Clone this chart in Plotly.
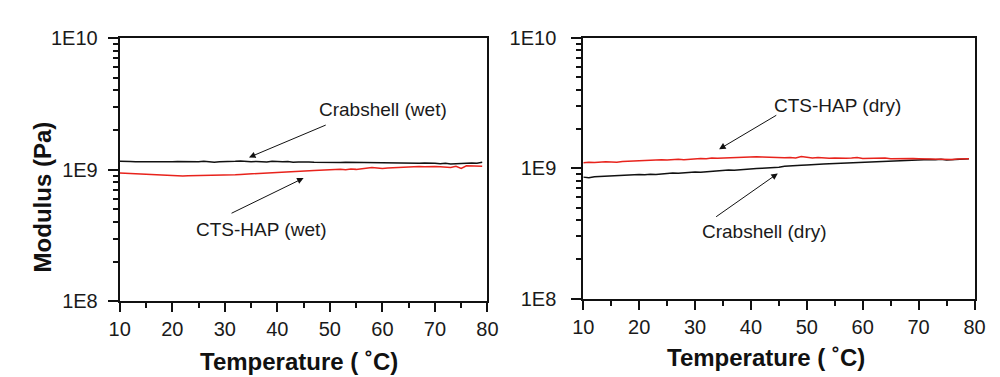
import plotly.graph_objects as go

temps = list(range(10, 80))

# Modulus values in units of 1E9 Pa
wet_crabshell = [1.16, 1.15, 1.155, 1.15, 1.148, 1.152, 1.15, 1.148, 1.153, 1.15,
                 1.148, 1.152, 1.15, 1.147, 1.155, 1.15, 1.16, 1.145, 1.14, 1.15,
                 1.148, 1.155, 1.158, 1.165, 1.152, 1.148, 1.155, 1.15, 1.145, 1.16,
                 1.15, 1.148, 1.152, 1.14, 1.145, 1.148, 1.142, 1.138, 1.135, 1.138,
                 1.14, 1.136, 1.135, 1.14, 1.138, 1.135, 1.138, 1.14, 1.137, 1.14,
                 1.138, 1.132, 1.125, 1.118, 1.122, 1.12, 1.115, 1.12, 1.125, 1.115,
                 1.118, 1.11, 1.12, 1.105, 1.112, 1.12, 1.115, 1.125, 1.118, 1.14]
wet_ctshap = [0.945, 0.94, 0.935, 0.93, 0.925, 0.922, 0.918, 0.91, 0.905, 0.902,
              0.9, 0.898, 0.896, 0.9, 0.902, 0.9, 0.905, 0.903, 0.898, 0.9,
              0.905, 0.91, 0.915, 0.92, 0.925, 0.935, 0.94, 0.945, 0.95, 0.955,
              0.96, 0.962, 0.965, 0.97, 0.975, 0.978, 0.982, 0.985, 0.99, 0.995,
              1.0, 1.0, 1.005, 1.0, 1.01, 1.005, 1.015, 1.02, 1.04, 1.03,
              1.02, 1.03, 1.035, 1.04, 1.045, 1.05, 1.048, 1.055, 1.05, 1.058,
              1.055, 1.05, 1.045, 1.04, 1.06, 1.02, 1.07, 1.065, 1.07, 1.06]
dry_ctshap = [1.1, 1.11, 1.105, 1.115, 1.12, 1.118, 1.112, 1.125, 1.13, 1.14,
              1.145, 1.14, 1.15, 1.155, 1.16, 1.155, 1.165, 1.17, 1.16, 1.175,
              1.18, 1.19, 1.185, 1.2, 1.195, 1.2, 1.21, 1.2, 1.22, 1.225,
              1.23, 1.225, 1.22, 1.215, 1.21, 1.2, 1.205, 1.21, 1.2, 1.23,
              1.215, 1.2, 1.21, 1.2, 1.195, 1.2, 1.19, 1.195, 1.2, 1.21,
              1.19, 1.195, 1.185, 1.19, 1.2, 1.185, 1.19, 1.18, 1.185, 1.19,
              1.185, 1.18, 1.175, 1.18, 1.17, 1.175, 1.168, 1.175, 1.18, 1.18]
dry_crabshell = [0.855, 0.845, 0.86, 0.865, 0.87, 0.868, 0.875, 0.88, 0.885, 0.89,
                 0.895, 0.89, 0.9, 0.895, 0.905, 0.91, 0.92, 0.915, 0.925, 0.93,
                 0.935, 0.93, 0.94, 0.945, 0.955, 0.96, 0.97, 0.965, 0.975, 0.985,
                 0.99, 0.995, 1.0, 1.005, 1.01, 1.02, 1.035, 1.045, 1.05, 1.055,
                 1.06, 1.07, 1.075, 1.08, 1.085, 1.09, 1.095, 1.1, 1.105, 1.11,
                 1.115, 1.12, 1.125, 1.13, 1.135, 1.14, 1.145, 1.15, 1.155, 1.16,
                 1.165, 1.17, 1.165, 1.16, 1.17, 1.155, 1.16, 1.17, 1.175, 1.18]

ytick_vals = [1e8, 1e9, 1e10]
ytick_text = ["1E8", "1E9", "1E10"]
xtick_vals = [10, 20, 30, 40, 50, 60, 70, 80]

FONT = "Liberation Sans, Arial, sans-serif"
BLACK = "#111111"
RED = "#e8231c"

def scale(v):
    return [x * 1e9 for x in v]

fig = go.Figure()
fig.add_trace(go.Scatter(x=temps, y=scale(wet_crabshell), mode="lines",
                         line=dict(color=BLACK, width=1.5), xaxis="x", yaxis="y", showlegend=False))
fig.add_trace(go.Scatter(x=temps, y=scale(wet_ctshap), mode="lines",
                         line=dict(color=RED, width=1.5), xaxis="x", yaxis="y", showlegend=False))
fig.add_trace(go.Scatter(x=temps, y=scale(dry_crabshell), mode="lines",
                         line=dict(color=BLACK, width=1.5), xaxis="x2", yaxis="y2", showlegend=False))
fig.add_trace(go.Scatter(x=temps, y=scale(dry_ctshap), mode="lines",
                         line=dict(color=RED, width=1.5), xaxis="x2", yaxis="y2", showlegend=False))

minor_logs = [m * 10 ** e for e in (8, 9) for m in range(2, 10)]

def xaxis_cfg(domain, anchor):
    return dict(domain=domain, anchor=anchor, range=[10, 80], tickvals=xtick_vals,
                ticks="outside", ticklen=9, tickwidth=2, tickcolor=BLACK,
                showline=True, linecolor=BLACK, linewidth=2, mirror=True,
                showgrid=False, zeroline=False,
                tickfont=dict(family=FONT, size=20, color="#1a1a1a"),
                minor=dict(ticks="outside", ticklen=5, tickwidth=2, tickcolor=BLACK,
                           dtick=5, tick0=10, showgrid=False))

def yaxis_cfg(domain, anchor, standoff):
    return dict(domain=domain, anchor=anchor, type="log", range=[8, 10],
                tickvals=ytick_vals, ticktext=ytick_text,
                ticks="outside", ticklen=10, tickwidth=2, tickcolor=BLACK,
                showline=True, linecolor=BLACK, linewidth=2, mirror=True,
                showgrid=False, zeroline=False, ticklabelstandoff=standoff,
                tickfont=dict(family=FONT, size=20, color="#1a1a1a"),
                minor=dict(ticks="outside", ticklen=5, tickwidth=1.5, tickcolor=BLACK,
                           tickvals=minor_logs, showgrid=False))

H = 377.0
fig.update_layout(
    width=1000, height=377,
    margin=dict(l=0, r=0, t=0, b=0),
    paper_bgcolor="white", plot_bgcolor="white",
    xaxis=xaxis_cfg([103 / 1000, 479 / 1000], "y"),
    yaxis=yaxis_cfg([1 - 300 / H, 1 - 20 / H], "x", 6),
    xaxis2=xaxis_cfg([577 / 1000, 977 / 1000], "y2"),
    yaxis2=yaxis_cfg([1 - 297 / H, 1 - 20 / H], "x2", 11),
)

ann_font = dict(family=FONT, size=19, color="#1a1a1a")
title_font = dict(family=FONT, size=24, color=BLACK)

annotations = [
    # text labels
    dict(x=60.1, y=9.46, xref="x", yref="y", text="Crabshell (wet)", showarrow=False, font=ann_font),
    dict(x=37.0, y=8.543, xref="x", yref="y", text="CTS-HAP (wet)", showarrow=False, font=ann_font),
    dict(x=55.5, y=9.478, xref="x2", yref="y2", text="CTS-HAP (dry)", showarrow=False, font=ann_font),
    dict(x=42.4, y=8.512, xref="x2", yref="y2", text="Crabshell (dry)", showarrow=False, font=ann_font),
    # arrows
    dict(x=34.6, y=9.093, ax=49.5, ay=9.343, xref="x", yref="y", axref="x", ayref="y",
         text="", showarrow=True, arrowhead=2, arrowsize=1.3, arrowwidth=1, arrowcolor=BLACK),
    dict(x=45.0, y=8.936, ax=31.0, ay=8.664, xref="x", yref="y", axref="x", ayref="y",
         text="", showarrow=True, arrowhead=2, arrowsize=1.3, arrowwidth=1, arrowcolor=BLACK),
    dict(x=34.3, y=9.146, ax=44.8, ay=9.413, xref="x2", yref="y2", axref="x2", ayref="y2",
         text="", showarrow=True, arrowhead=2, arrowsize=1.3, arrowwidth=1, arrowcolor=BLACK),
    dict(x=44.8, y=8.96, ax=33.5, ay=8.62, xref="x2", yref="y2", axref="x2", ayref="y2",
         text="", showarrow=True, arrowhead=2, arrowsize=1.3, arrowwidth=1, arrowcolor=BLACK),
    # axis titles
    dict(x=286 / 1000, y=1 - 364 / H, xref="paper", yref="paper", text="<b>Temperature ( ˚C)</b>",
         showarrow=False, font=title_font, xanchor="center", yanchor="middle"),
    dict(x=764 / 1000, y=1 - 360 / H, xref="paper", yref="paper", text="<b>Temperature ( ˚C)</b>",
         showarrow=False, font=title_font, xanchor="center", yanchor="middle"),
    dict(x=25 / 1000, y=1 - 189 / H, xref="paper", yref="paper", text="<b>Modulus (Pa)</b>",
         showarrow=False, font=title_font, textangle=-90, xanchor="center", yanchor="middle"),
]
fig.update_layout(annotations=annotations)

fig.write_html("out.html")
